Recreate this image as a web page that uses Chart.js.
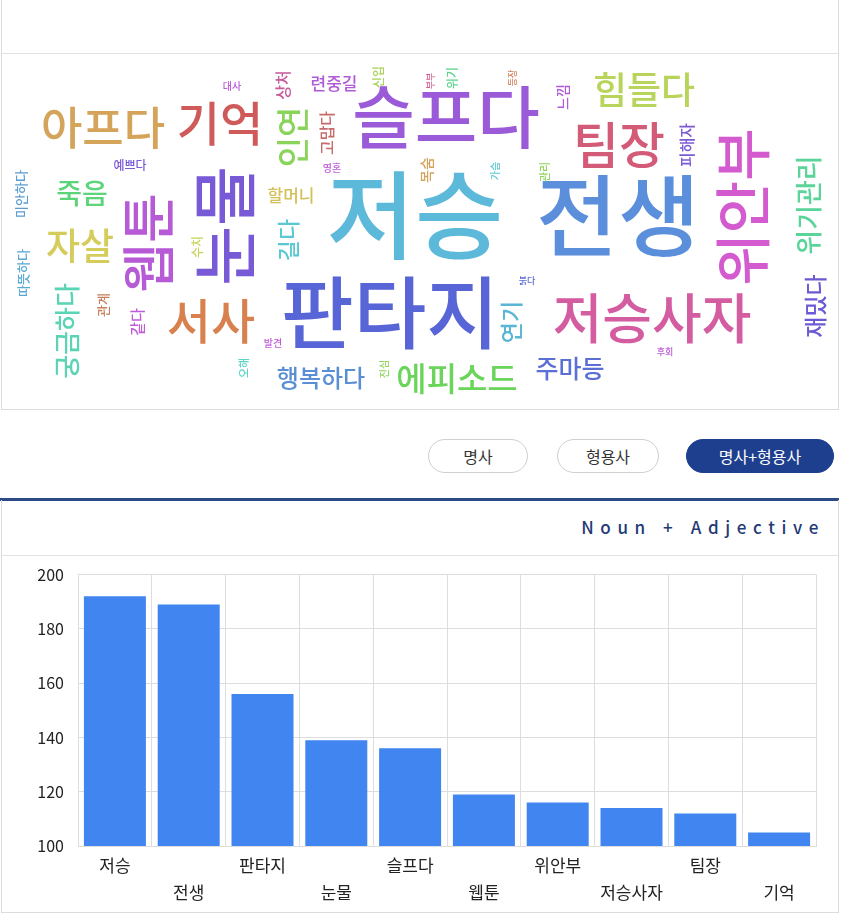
<!DOCTYPE html>
<html lang="ko">
<head>
<meta charset="utf-8">
<script src="https://cdn.jsdelivr.net/npm/chart.js@4"></script>
<style>
  body { margin: 0; width: 850px; height: 916px; position: relative; background: #fff; font-family: "Noto Sans CJK KR", "Noto Sans", sans-serif; overflow: hidden; }
  .abs { position: absolute; }
  .card { border: 1px solid #dcdcdc; box-sizing: border-box; }
  .btn { position: absolute; top: 439px; height: 34px; box-sizing: border-box; border: 1px solid #cfcfcf; border-radius: 17px; font-size: 16px; color: #333; text-align: center; line-height: 32px; background: #fff; }
  .btn.on { background: #1e3f8e; border-color: #1e3f8e; color: #fff; }
</style>
</head>
<body>

<!-- word cloud card -->
<div class="abs card" style="left:1px; top:-1px; width:838px; height:411px;"></div>
<div class="abs" style="left:2px; top:53px; width:836px; height:1px; background:#e3e3e3;"></div>
<canvas id="cloudChart" class="abs" width="835" height="354" style="left:2px; top:54px;"></canvas>

<!-- buttons -->
<div class="btn" style="left:428px; width:100px;">명사</div>
<div class="btn" style="left:557px; width:102px;">형용사</div>
<div class="btn on" style="left:686px; width:148px;">명사+형용사</div>

<!-- bar chart card -->
<div class="abs" style="left:0; top:498px; width:839px; height:3px; background:#2c4a86;"></div>
<div class="abs card" style="left:1px; top:500px; width:838px; height:413px; border-top:none;"></div>
<div class="abs" style="right:25px; top:514px; font-size:17px; letter-spacing:6.6px; color:#1f3b76; font-weight:500;">Noun + Adjective</div>
<div class="abs" style="left:2px; top:555px; width:836px; height:1px; background:#e3e3e3;"></div>
<canvas id="barChart" class="abs" width="836" height="359" style="left:0; top:551px;"></canvas>

<script>
// ====================== BAR DATA ======================
const categories = ["저승", "전생", "판타지", "눈물", "슬프다", "웹툰", "위안부", "저승사자", "팀장", "기억"];
const counts = [192, 189, 156, 139, 136, 119, 116, 114, 112, 105];
const yTicks = [100, 120, 140, 160, 180, 200];

// ====================== WORD CLOUD DATA ======================
const cloudWords = ["저승", "전생", "판타지", "슬프다", "위안부", "저승사자", "눈물", "웹툰", "기억", "아프다",
  "팀장", "서사", "힘들다", "인연", "자살", "죽음", "궁금하다", "에피소드", "위기관리", "재밌다",
  "주마등", "행복하다", "길다", "연기", "할머니", "련중길", "피해자", "고맙다", "상처", "느낌",
  "같다", "관계", "미안하다", "따뜻하다", "예쁘다", "목숨", "수치", "신입", "위기", "관리",
  "오해", "대사", "영혼", "발견", "가슴", "진심", "붉다", "등장", "부부", "후회"];
const cloudX = [415, 618, 390, 446, 742, 652, 224, 148, 220, 103,
  619, 211, 644, 292, 80, 82, 67, 457, 809, 815,
  570, 321, 288, 511, 291, 334, 687, 327, 283, 563,
  137, 103, 21, 23, 130, 427, 197, 378, 452, 545,
  244, 232, 332, 273, 495, 384, 527, 513, 431, 665];
const cloudY = [215, 215, 313, 117, 207, 318, 226, 243, 123, 128,
  145, 321, 90, 137, 246, 193, 331, 378, 205, 306,
  368, 378, 240, 322, 196, 84, 145, 133, 85, 97,
  322, 305, 194, 273, 165, 170, 247, 77, 78, 172,
  368, 86, 168, 343, 171, 369, 281, 78, 81, 352];
// font size in px
const cloudWeight = [96, 89, 79, 68, 57, 54, 65, 54, 47, 45,
  50, 48, 37, 33, 37, 28, 26, 33, 27, 23,
  25, 24, 23, 23, 17, 17, 16, 16, 16, 14,
  15, 13, 13, 13, 12, 14, 12, 12, 12, 11,
  11, 10, 10, 10, 10, 10, 9, 9, 9, 9];
// 1 = vertical (reads bottom to top)
const cloudVertical = [0, 0, 0, 0, 1, 0, 1, 1, 0, 0,
  0, 0, 0, 1, 0, 0, 1, 0, 1, 1,
  0, 0, 1, 1, 0, 0, 1, 1, 1, 1,
  1, 1, 1, 1, 0, 1, 1, 1, 1, 1,
  1, 0, 0, 0, 1, 1, 0, 1, 1, 0];
const cloudColors = ["#5db9d9", "#5b8fdb", "#5865d6", "#9b5ad8", "#d35bcf", "#d45ca0", "#7859d6", "#b65ad6", "#cf5a5a", "#d4a45b",
  "#d45b78", "#d8804e", "#b8d45b", "#8ad45b", "#d4cc5b", "#5bd47a", "#5bd4b5", "#6bd45b", "#5bd49a", "#6a5bd4",
  "#5b6fd4", "#5b8fd4", "#5bc8d4", "#5bb5d4", "#d4c05b", "#b05bd8", "#7b5bd4", "#c86b6b", "#c85b9a", "#b05bd8",
  "#c05bd8", "#c8805b", "#5b9ed4", "#5ba8d4", "#7b5bd8", "#d4a35b", "#c8d45b", "#a8d45b", "#5bd48f", "#8fd45b",
  "#5bd4c8", "#c05bd8", "#c05bd8", "#c05bd8", "#5bc8d4", "#8fd45b", "#5b6bd4", "#d4805b", "#d45b8f", "#c05bd8"];

const KFONT = '"Noto Sans CJK KR", "Noto Sans", sans-serif';

// --- word cloud: scatter points, words painted at each point ---
const wordPlugin = {
  id: "words",
  afterDatasetsDraw(chart) {
    const ctx = chart.ctx;
    const meta = chart.getDatasetMeta(0);
    meta.data.forEach((pt, i) => {
      ctx.save();
      ctx.translate(pt.x, pt.y);
      if (cloudVertical[i]) ctx.rotate(-Math.PI / 2);
      ctx.font = "500 " + cloudWeight[i] + "px " + KFONT;
      ctx.fillStyle = cloudColors[i];
      ctx.textAlign = "center";
      ctx.textBaseline = "middle";
      ctx.fillText(cloudWords[i], 0, 0);
      ctx.restore();
    });
  }
};

new Chart(document.getElementById("cloudChart"), {
  type: "scatter",
  data: {
    datasets: [{ data: cloudX.map((x, i) => ({ x: x, y: cloudY[i] })), pointRadius: 0 }]
  },
  options: {
    responsive: false,
    animation: false,
    events: [],
    layout: { padding: 0 },
    plugins: { legend: { display: false }, tooltip: { enabled: false } },
    scales: {
      x: { display: false, min: 2, max: 837 },
      y: { display: false, min: 54, max: 408, reverse: true }
    }
  },
  plugins: [wordPlugin]
});

// --- bar chart ---
const barLabels = categories.map((c, i) => (i % 2 ? ["", c] : [c, ""]));

new Chart(document.getElementById("barChart"), {
  type: "bar",
  data: {
    labels: barLabels,
    datasets: [{ data: counts, backgroundColor: "#4185f0", barPercentage: 0.84, categoryPercentage: 1 }]
  },
  options: {
    responsive: false,
    animation: false,
    events: [],
    layout: { padding: { top: 14, right: 20, left: 0, bottom: 0 } },
    plugins: { legend: { display: false }, tooltip: { enabled: false } },
    scales: {
      x: {
        grid: { color: "#dddddd", drawTicks: false },
        border: { color: "#dddddd" },
        ticks: { autoSkip: false, maxRotation: 0, padding: 6, color: "#222", font: { family: KFONT, size: 17, lineHeight: 1.6 } },
        afterFit: (s) => { s.height = 64; }
      },
      y: {
        min: yTicks[0],
        max: yTicks[yTicks.length - 1],
        grid: { color: "#dddddd", drawTicks: false },
        border: { color: "#dddddd" },
        ticks: { stepSize: 20, padding: 14, color: "#222", font: { family: KFONT, size: 16 } },
        afterFit: (s) => { s.width = 78; }
      }
    }
  }
});
</script>
</body>
</html>
